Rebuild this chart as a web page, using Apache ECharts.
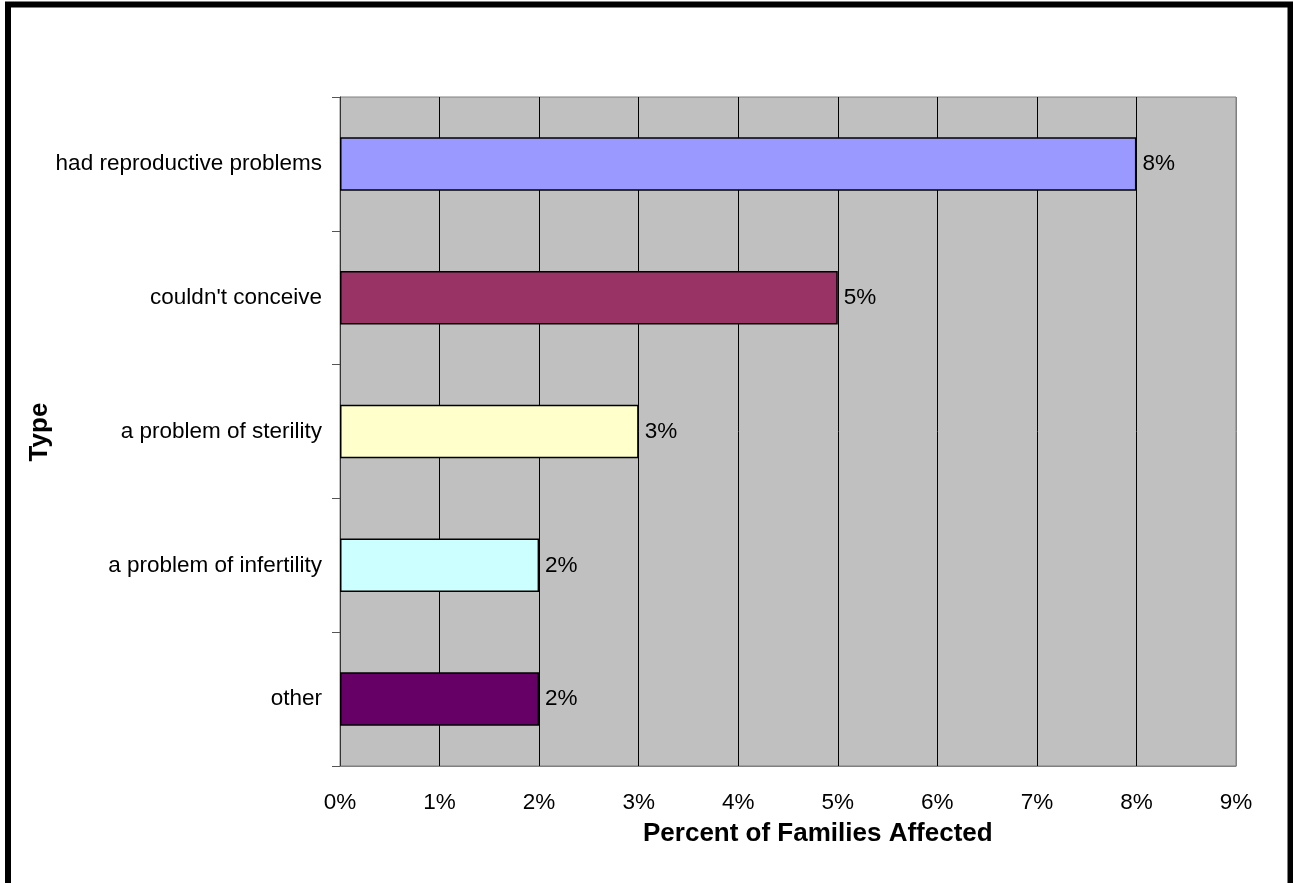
<!DOCTYPE html>
<html>
<head>
<meta charset="utf-8">
<script src="https://cdn.jsdelivr.net/npm/echarts@6/dist/echarts.min.js"></script>
<style>
  html, body { margin: 0; padding: 0; background: #fff; }
  #chart { width: 1293px; height: 883px; }
</style>
</head>
<body>
<div id="chart"></div>
<script>
// 数据
var categories = ["had reproductive problems", "couldn't conceive", "a problem of sterility", "a problem of infertility", "other"];
var values = [8, 5, 3, 2, 2];
var barColors = ["#9999FF", "#993366", "#FFFFCC", "#CCFFFF", "#660066"];
var xTicks = [0, 1, 2, 3, 4, 5, 6, 7, 8, 9];

var myChart = echarts.init(document.getElementById("chart"));

// 网格线：最后一条（9%）是边框颜色
var splitColors = xTicks.map(function (t, i) {
  return i === xTicks.length - 1 ? "#808080" : "#000000";
});

var option = {
  animation: false,
  backgroundColor: "#ffffff",
  textStyle: { fontFamily: "Liberation Sans, Arial, sans-serif" },
  grid: {
    left: 340,
    right: 57,
    top: 97,
    bottom: 117,
    show: true,
    backgroundColor: "#C0C0C0",
    borderColor: "#808080",
    borderWidth: 1
  },
  xAxis: {
    type: "value",
    min: 0,
    max: 9,
    interval: 1,
    axisLine: { show: true, lineStyle: { color: "#808080", width: 1 } },
    axisTick: { show: false },
    axisLabel: {
      margin: 25,
      color: "#000",
      fontSize: 22.5,
      fontFamily: "Liberation Sans",
      formatter: "{value}%"
    },
    splitLine: { show: true, lineStyle: { color: splitColors, width: 1 } }
  },
  yAxis: {
    type: "category",
    inverse: true,
    data: categories,
    axisLine: { show: true, lineStyle: { color: "#333333", width: 1 } },
    axisTick: { show: true, inside: false, length: 8, lineStyle: { color: "#555555" } },
    axisLabel: {
      margin: 18,
      color: "#000",
      fontSize: 22.5,
      fontFamily: "Liberation Sans"
    },
    splitLine: { show: false }
  },
  series: [
    {
      type: "bar",
      data: values.map(function (v, i) {
        return { value: v, itemStyle: { color: barColors[i] } };
      }),
      barWidth: "40%",
      itemStyle: { borderColor: "#000", borderWidth: 1.5 },
      label: {
        show: true,
        position: "right",
        distance: 6,
        color: "#000",
        fontSize: 22.5,
        fontFamily: "Liberation Sans",
        formatter: "{c}%"
      }
    }
  ],
  graphic: [
    {
      type: "rect",
      shape: { x: 8, y: 4.5, width: 1282.5, height: 1000 },
      style: { fill: null, stroke: "#000", lineWidth: 6 },
      silent: true
    },
    {
      type: "text",
      left: 643,
      top: 821,
      style: {
        text: "Percent of Families Affected",
        font: "bold 26px Liberation Sans",
        fill: "#000"
      }
    },
    {
      type: "text",
      x: 40,
      y: 432,
      rotation: Math.PI / 2,
      style: {
        text: "Type",
        font: "bold 26px Liberation Sans",
        fill: "#000",
        align: "center",
        verticalAlign: "middle"
      }
    }
  ]
};

myChart.setOption(option);
</script>
</body>
</html>
